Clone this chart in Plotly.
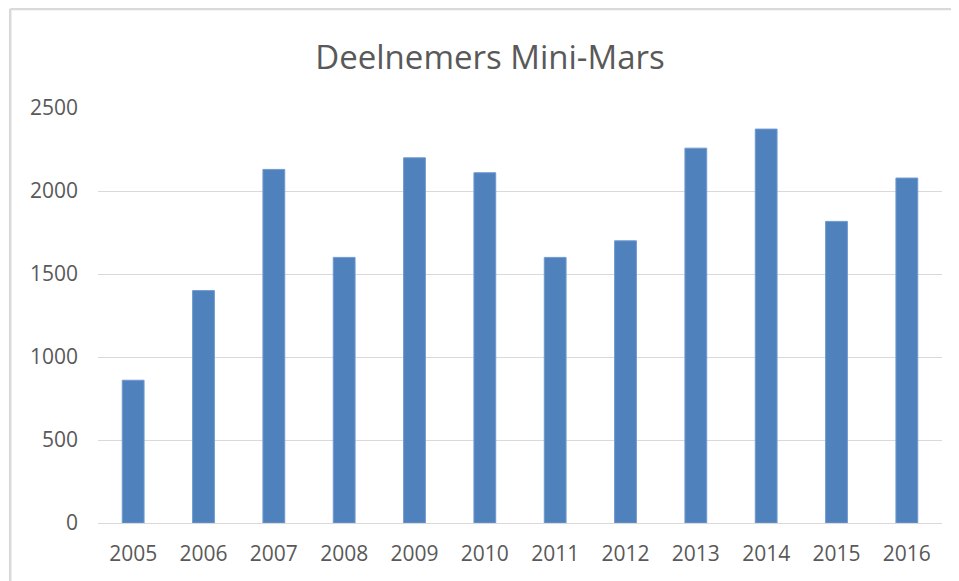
import plotly.graph_objects as go

years = ["2005", "2006", "2007", "2008", "2009", "2010", "2011", "2012", "2013", "2014", "2015", "2016"]
deelnemers = [860, 1400, 2130, 1600, 2200, 2110, 1600, 1700, 2258, 2373, 1817, 2078]
y_ticks = [0, 500, 1000, 1500, 2000, 2500]

fig = go.Figure()
fig.add_bar(x=years, y=deelnemers, marker=dict(color="#4f81bd", line=dict(color="#6f9ad0", width=1)))

fig.update_layout(
    width=959, height=581,
    margin=dict(l=90, r=25, t=100, b=66),
    paper_bgcolor="white", plot_bgcolor="white",
    bargap=0.69,
    showlegend=False,
    font=dict(family="Open Sans", color="#595959"),
    title=dict(text="Deelnemers Mini-Mars", x=0.5026, xanchor="center", xref="container",
               y=0.9157, yanchor="middle", font=dict(size=33, color="#595959", family="Open Sans")),
    xaxis=dict(showgrid=False, showline=False, ticks="", tickfont=dict(size=21), ticklabelstandoff=16),
    yaxis=dict(range=[0, 2500], tickvals=y_ticks, showgrid=True, gridcolor="#d9d9d9", gridwidth=1,
               zeroline=True, zerolinecolor="#d9d9d9", zerolinewidth=1,
               tickfont=dict(size=21), ticks="", ticklabelstandoff=19),
)

# frame of the chart area: only the top and left edge are in view
frame = dict(color="#d9d9d9", width=2.5)
fig.add_shape(type="line", xref="paper", yref="paper", x0=-0.104, x1=1.2, y0=1.2386, y1=1.2386, line=frame)
fig.add_shape(type="line", xref="paper", yref="paper", x0=-0.104, x1=-0.104, y0=-0.3, y1=1.2386, line=frame)

fig.write_html("out.html")
